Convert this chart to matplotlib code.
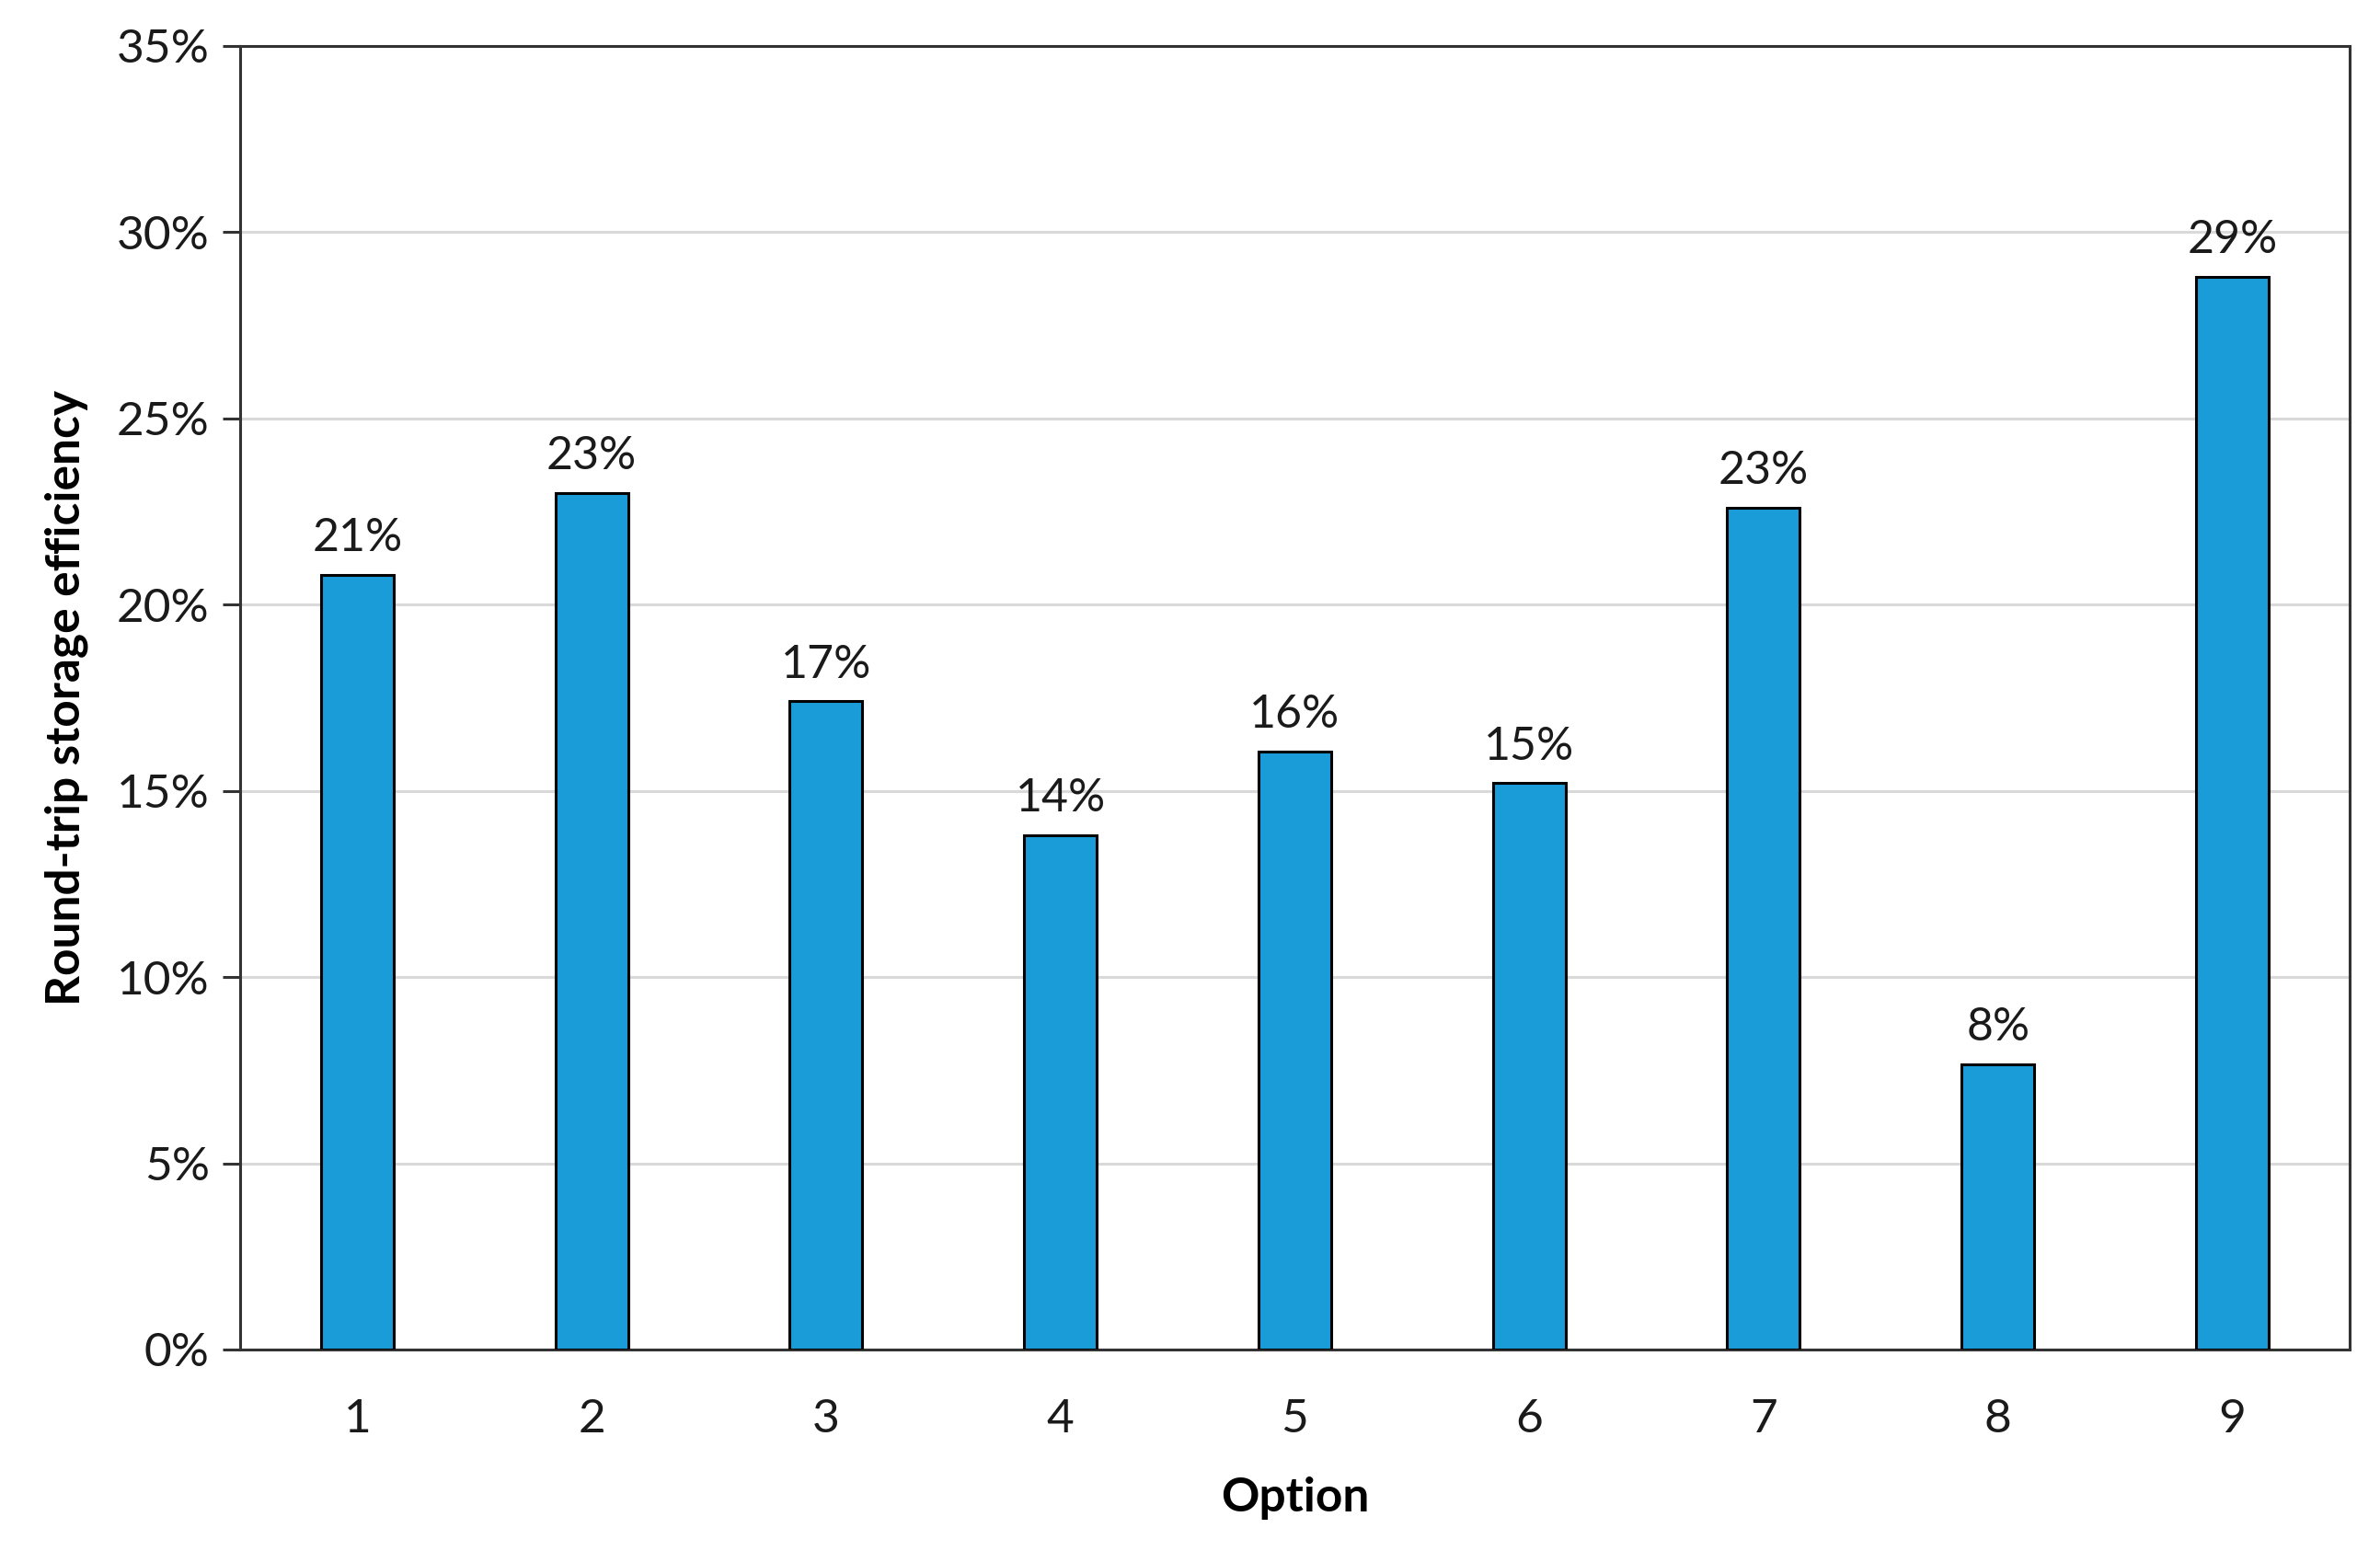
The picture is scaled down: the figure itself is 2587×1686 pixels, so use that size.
import matplotlib.pyplot as plt
from matplotlib.ticker import PercentFormatter

# Data
options = ['1', '2', '3', '4', '5', '6', '7', '8', '9']
efficiency = [20.8, 23.0, 17.4, 13.8, 16.05, 15.2, 22.6, 7.66, 28.8]
labels = ['21%', '23%', '17%', '14%', '16%', '15%', '23%', '8%', '29%']

plt.rcParams['font.family'] = ['Lato', 'DejaVu Sans']

fig = plt.figure(figsize=(25.87, 16.86), dpi=100)
ax = fig.add_axes([0.1009, 0.1299, 0.8863, 0.8407])

xs = list(range(len(options)))
bars = ax.bar(xs, efficiency, width=0.31, color='#1a9cd8', edgecolor='black',
              linewidth=2.2, zorder=3)

for b, lab in zip(bars, labels):
    ax.annotate(lab, (b.get_x() + b.get_width() / 2, b.get_height()),
                xytext=(0, 12), textcoords='offset points',
                ha='center', va='bottom', fontsize=36, color='#1a1a1a')

ax.set_xlim(-0.5, len(options) - 0.5)
ax.set_ylim(0, 35)
ax.set_yticks(range(0, 36, 5))
ax.yaxis.set_major_formatter(PercentFormatter(decimals=0))
ax.set_xticks(xs)
ax.set_xticklabels(options)

ax.grid(axis='y', color='#d9d9d9', linewidth=2.2, zorder=0)
for s in ax.spines.values():
    s.set_color('#333333')
    s.set_linewidth(2.2)

ax.tick_params(axis='y', length=14, width=2.2, color='#333333',
               labelsize=37, pad=10, labelcolor='#1a1a1a')
ax.tick_params(axis='x', length=0, labelsize=37, pad=38, labelcolor='#1a1a1a')

ax.set_xlabel('Option', fontsize=37, fontweight='bold', labelpad=28)
ax.set_ylabel('Round-trip storage efficiency', fontsize=37,
              fontweight='bold', labelpad=22)

fig.savefig('out.png', dpi=100)
